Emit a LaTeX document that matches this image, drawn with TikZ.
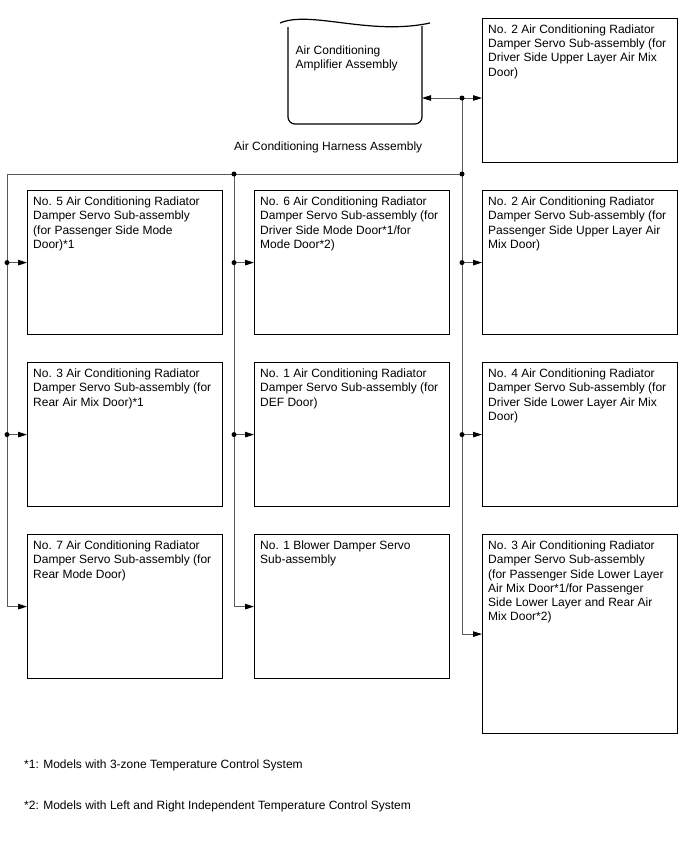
\documentclass[tikz,border=0pt]{standalone}
\usepackage{fontspec}
\setmainfont{Liberation Sans}
\usetikzlibrary{arrows.meta}

\tikzset{
  servo/.style={draw, line width=1.2pt, minimum width=195, minimum height=144, inner sep=0pt, anchor=north west},
  servotxt/.style={anchor=north west, align=left, inner xsep=6pt, inner ysep=6.5pt},
  plain/.style={anchor=west, inner sep=0pt},
  bus/.style={draw=black!65, line width=0.9pt},
  jdot/.style={circle, fill=black, inner sep=0pt, minimum size=5pt},
}

\begin{document}
\begin{tikzpicture}[x=1pt,y=-1pt,font=\fontsize{12}{14.3}\selectfont,
  >={Triangle[length=9pt,width=5.5pt,color=black]}]
  \useasboundingbox (0,0) rectangle (688,852);
  % ===================== amplifier =====================
  \draw[line width=1.2pt] (280,23) .. controls (310,10) and (370,36) .. (430,23);
  \draw[line width=1.2pt,rounded corners=7] (288,27) -- (288,124) -- (422,124) -- (422,26);
  \node[anchor=north west, align=left, inner sep=0pt] (amp) at (295.5,45.5) {Air Conditioning\\Amplifier Assembly};
  \coordinate (ampP) at (422,98);
  % ===================== servos =====================
  % right column
  \node[servo] (r0) at (482,18) {};
  \node[servotxt] (r0t) at (r0.north west) {No. 2 Air Conditioning Radiator\\Damper Servo Sub-assembly (for\\Driver Side Upper Layer Air Mix\\Door)};
  \node[servo] (r1) at (482,190) {};
  \node[servotxt] (r1t) at (r1.north west) {No. 2 Air Conditioning Radiator\\Damper Servo Sub-assembly (for\\Passenger Side Upper Layer Air\\Mix Door)};
  \node[servo] (r2) at (482,362) {};
  \node[servotxt] (r2t) at (r2.north west) {No. 4 Air Conditioning Radiator\\Damper Servo Sub-assembly (for\\Driver Side Lower Layer Air Mix\\Door)};
  \node[servo, minimum height=199] (r3) at (482,534) {};
  \node[servotxt] (r3t) at (r3.north west) {No. 3 Air Conditioning Radiator\\Damper Servo Sub-assembly\\(for Passenger Side Lower Layer\\Air Mix Door*1/for Passenger\\Side Lower Layer and Rear Air\\Mix Door*2)};
  % left column
  \node[servo] (l1) at (27,190) {};
  \node[servotxt] (l1t) at (l1.north west) {No. 5 Air Conditioning Radiator\\Damper Servo Sub-assembly\\(for Passenger Side Mode\\Door)*1};
  \node[servo] (l2) at (27,362) {};
  \node[servotxt] (l2t) at (l2.north west) {No. 3 Air Conditioning Radiator\\Damper Servo Sub-assembly (for\\Rear Air Mix Door)*1};
  \node[servo] (l3) at (27,534) {};
  \node[servotxt] (l3t) at (l3.north west) {No. 7 Air Conditioning Radiator\\Damper Servo Sub-assembly (for\\Rear Mode Door)};
  % middle column
  \node[servo] (m1) at (254,190) {};
  \node[servotxt] (m1t) at (m1.north west) {No. 6 Air Conditioning Radiator\\Damper Servo Sub-assembly (for\\Driver Side Mode Door*1/for\\Mode Door*2)};
  \node[servo] (m2) at (254,362) {};
  \node[servotxt] (m2t) at (m2.north west) {No. 1 Air Conditioning Radiator\\Damper Servo Sub-assembly (for\\DEF Door)};
  \node[servo] (m3) at (254,534) {};
  \node[servotxt] (m3t) at (m3.north west) {No. 1 Blower Damper Servo\\Sub-assembly};
  % ===================== harness =====================
  \coordinate (hL) at (7,174);
  \coordinate (hM) at (234,174);
  \coordinate (hR) at (462,174);
  \coordinate (jA) at (462,98);
  \node[plain] (harn) at (234,147) {Air Conditioning Harness Assembly};
  % amplifier <-> no. 2 upper
  \draw[bus,<->] (ampP) -- (ampP -| r0.west);
  % main runs
  \draw[bus,->] (hR) -- (hL) |- (l3.west);
  \draw[bus,->] (hM) |- (m3.west);
  \draw[bus,->] (jA) |- (r3.west);
  % branches
  \foreach \b/\x in {l1/hL,l2/hL,m1/hM,m2/hM,r1/hR,r2/hR}{
    \draw[bus,->] (\x |- \b.west) -- (\b.west);
    \node[jdot] (d\b) at (\x |- \b.west) {};
  }
  \node[jdot] (dA) at (jA) {};
  \node[jdot] (dM) at (hM) {};
  \node[jdot] (dR) at (hR) {};
  % ===================== notes =====================
  \node[plain] (fn1) at (24,765) {*1: Models with 3-zone Temperature Control System};
  \node[plain] (fn2) at (24,806) {*2: Models with Left and Right Independent Temperature Control System};
\end{tikzpicture}
\end{document}
